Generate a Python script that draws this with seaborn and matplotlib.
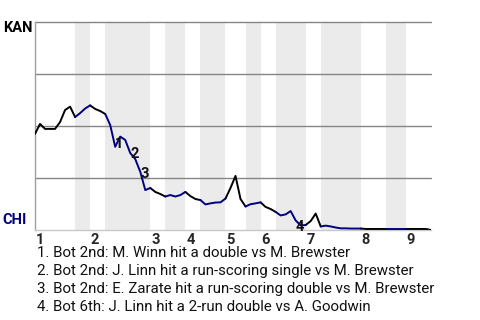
import matplotlib
matplotlib.use("Agg")
import matplotlib.pyplot as plt
import matplotlib.transforms as mtransforms
import seaborn as sns
import pandas as pd

# ---- data ----
kan_win_prob = [46.2, 51.0, 48.6, 48.6, 48.6, 51.9, 57.7, 59.3, 54.3, 56.2,
                58.4, 59.9, 58.2, 57.2, 55.8, 50.5, 40.0, 44.9, 43.3, 37.0,
                34.1, 28.0, 19.2, 20.2, 18.3, 17.3, 16.1, 16.8, 16.1, 16.8,
                18.3, 16.3, 14.9, 14.4, 12.3, 12.8, 13.2, 13.3, 15.1, 20.2,
                26.0, 14.9, 11.3, 12.4, 12.8, 13.3, 11.1, 10.1, 8.7, 7.0,
                7.5, 9.1, 4.6, 2.2, 2.4, 4.3, 7.9, 1.7, 2.1, 1.7,
                1.2, 0.8, 0.8, 0.7, 0.7, 0.7, 0.5, 0.5, 0.5, 0.5,
                0.5, 0.5, 0.5, 0.5, 0.5, 0.5, 0.5, 0.5, 0.5, 0.0]
half_inning_bounds = [0, 8, 11, 14, 23, 26, 30, 33, 38, 42, 45, 48, 54, 57, 65, 70, 74, 79]
inning_labels = ["1", "2", "3", "4", "5", "6", "7", "8", "9"]
event_plays = [16, 19, 21, 52]
event_labels = ["1", "2", "3", "4"]
event_texts = [
    "1. Bot 2nd: M. Winn hit a double vs M. Brewster",
    "2. Bot 2nd: J. Linn hit a run-scoring single vs M. Brewster",
    "3. Bot 2nd: E. Zarate hit a run-scoring double vs M. Brewster",
    "4. Bot 6th: J. Linn hit a 2-run double vs A. Goodwin",
]
top_team = "KAN"
bottom_team = "CHI"

# ---- build segment table ----
rows = []
for s in range(len(half_inning_bounds) - 1):
    a, b = half_inning_bounds[s], half_inning_bounds[s + 1]
    side = "top" if s % 2 == 0 else "bot"
    for i in range(a, b + 1):
        rows.append({"play": i, "prob": kan_win_prob[i], "seg": s, "side": side})
df = pd.DataFrame(rows)

sns.set_theme(style="white")
plt.rcParams["font.family"] = ["Roboto", "DejaVu Sans"]

fig = plt.figure(figsize=(4.8, 3.2), dpi=100)
ax = fig.add_axes([35 / 480, 1 - 230 / 320, 396 / 480, 208 / 320])

# shaded bottom halves
for s in range(1, len(half_inning_bounds) - 1, 2):
    ax.axvspan(half_inning_bounds[s], half_inning_bounds[s + 1], color="#ebebeb", lw=0, zorder=0)

for g in [25, 50, 75, 100]:
    ax.axhline(g, color="#858585", lw=1.0, zorder=1, clip_on=False)

sns.lineplot(data=df, x="play", y="prob", units="seg", estimator=None, hue="side",
             palette={"top": "black", "bot": "#000080"}, legend=False, ax=ax,
             linewidth=1.4, zorder=3)

ax.set_xlim(0, half_inning_bounds[-1])
ax.set_ylim(0, 100)
ax.set_xlabel("")
ax.set_ylabel("")
ax.set_yticks([])
for sp in ["top", "right"]:
    ax.spines[sp].set_visible(False)
ax.spines["left"].set_color("#a0a0a0")
ax.spines["left"].set_linewidth(1.0)
ax.spines["bottom"].set_color("#c8c8c8")
ax.spines["bottom"].set_linewidth(1.0)

inning_starts = half_inning_bounds[0:-1:2]
ax.set_xticks(inning_starts)
ax.set_xticklabels(inning_labels, fontweight="bold", fontsize=10.5)
ax.tick_params(axis="x", length=0, pad=2)
offset = mtransforms.ScaledTranslation(0.6 / 72, 0, fig.dpi_scale_trans)
for lbl in ax.get_xticklabels():
    lbl.set_ha("left")
    lbl.set_transform(lbl.get_transform() + offset)

ax.text(-2 / 396, 0.971, top_team, transform=ax.transAxes, ha="right", va="center",
        fontsize=10.5, fontweight="bold", color="black")
ax.text(-8 / 396, 0.046, bottom_team, transform=ax.transAxes, ha="right", va="center",
        fontsize=10.5, fontweight="bold", color="#000080")

y_offsets = [1.8, -0.7, -1.4, -4.5]
for p, lab, yo in zip(event_plays, event_labels, y_offsets):
    ax.annotate(lab, (p, kan_win_prob[p]), xytext=(3, yo), textcoords="offset points",
                ha="center", va="center", fontsize=10.5, fontweight="bold",
                color="#111111", zorder=4, annotation_clip=False)

for k, t in enumerate(event_texts):
    fig.text(37 / 480, 1 - (253 + 18 * k) / 320, t, ha="left", va="center",
             fontsize=10.8, color="#111111")

fig.savefig("out.png", dpi=100)
